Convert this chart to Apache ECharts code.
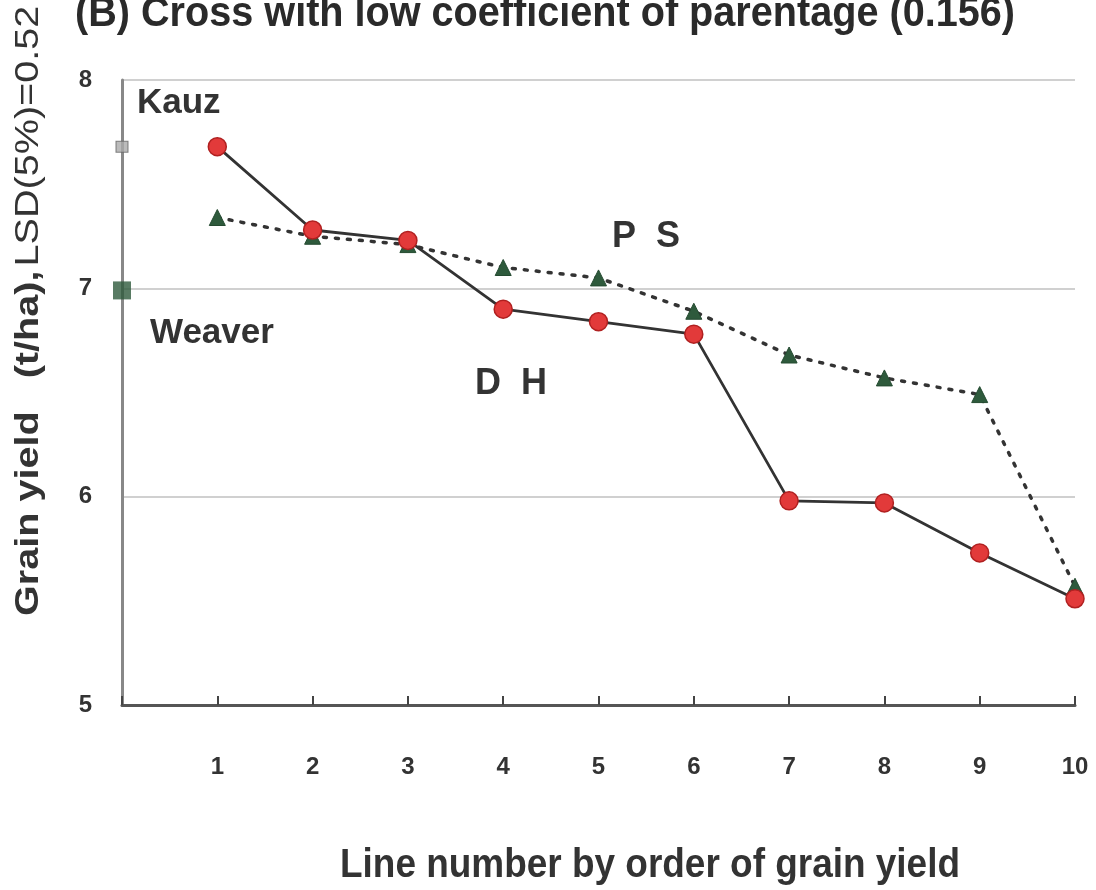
<!DOCTYPE html>
<html><head><meta charset="utf-8">
<script src="https://cdn.jsdelivr.net/npm/echarts@6/dist/echarts.min.js"></script>
<style>html,body{margin:0;padding:0;background:#fff}#c{width:1096px;height:890px}</style>
</head><body><div id="c"></div>
<script>
const lineNumbers = [1,2,3,4,5,6,7,8,9,10];
const dhYield = [7.68,7.28,7.23,6.90,6.84,6.78,5.98,5.97,5.73,5.51];
const psYield = [7.34,7.25,7.21,7.10,7.05,6.89,6.68,6.57,6.49,5.57];
const kauz = [0, 7.68];
const weaver = [0, 6.99];
const yTicks = [5,6,7,8];

const FONT = 'Liberation Sans';
const titleText = '(B) Cross with low coefficient of parentage (0.156)';
const xNameText = 'Line number by order of grain yield';

function measure(text, size){
  const c = document.createElement('canvas').getContext('2d');
  c.font = 'bold ' + size + 'px "' + FONT + '"';
  return c.measureText(text).width;
}
const titleSize = 42, xNameSize = 40;
const titleScale = 940 / measure(titleText, titleSize);
const xNameScale = 620 / measure(xNameText, xNameSize);

const chart = echarts.init(document.getElementById('c'));
chart.setOption({
  backgroundColor:'#fff',
  animation:false,
  grid:{left:122,right:21,top:80,bottom:185},
  xAxis:{type:'value',min:0,max:10,interval:1,
    axisLine:{lineStyle:{color:'#555',width:3}},
    axisTick:{inside:true,length:9,lineStyle:{color:'#444',width:2}},
    splitLine:{show:false},
    axisLabel:{margin:50,fontFamily:FONT,fontWeight:'bold',fontSize:24,color:'#333',
      formatter:v=>v===0?'':String(v)}
  },
  yAxis:{type:'value',min:5,max:8,interval:1,
    axisLine:{show:true,lineStyle:{color:'#888',width:3}},
    axisTick:{show:false},
    splitLine:{lineStyle:{color:'#d0d0d0',width:2}},
    axisLabel:{margin:30,fontFamily:FONT,fontWeight:'bold',fontSize:24,color:'#333',
      formatter:v=>yTicks.includes(v)?String(v):''}
  },
  graphic:[
    {type:'text',x:545,y:14,scaleX:titleScale,
     style:{text:titleText,fontFamily:FONT,fontWeight:'bold',fontSize:titleSize,fill:'#2a2a2a',
       align:'center',verticalAlign:'middle'}},
    {type:'text',x:650,y:866,scaleX:xNameScale,
     style:{text:xNameText,fontFamily:FONT,fontWeight:'bold',fontSize:xNameSize,fill:'#333',
       align:'center',verticalAlign:'middle'}},
    {type:'text',x:12,y:616,rotation:Math.PI/2,scaleX:1.2,
     style:{text:'{b|Grain yield   (t/ha),} {n|LSD(5%)=0.52}',rich:{
       b:{fontFamily:FONT,fontWeight:'bold',fontSize:33,fill:'#333'},
       n:{fontFamily:FONT,fontSize:33,fill:'#333'}}}},
    {type:'text',x:612,y:219,style:{text:'P  S',fontFamily:FONT,fontWeight:'bold',fontSize:36,fill:'#333'}},
    {type:'text',x:475,y:366,style:{text:'D  H',fontFamily:FONT,fontWeight:'bold',fontSize:36,fill:'#333'}},
    {type:'text',x:137,y:86,style:{text:'Kauz',fontFamily:FONT,fontWeight:'bold',fontSize:35,fill:'#333'}},
    {type:'text',x:150,y:316,style:{text:'Weaver',fontFamily:FONT,fontWeight:'bold',fontSize:35,fill:'#333'}}
  ],
  series:[
    {type:'line',name:'PS',data:lineNumbers.map((x,i)=>[x,psYield[i]]),
     lineStyle:{color:'#333',width:3.5,type:[3,9],cap:'round'},
     symbol:'triangle',symbolSize:16,itemStyle:{color:'#2e5a3c',borderColor:'#244a30',borderWidth:1},z:3},
    {type:'line',name:'DH',data:lineNumbers.map((x,i)=>[x,dhYield[i]]),
     lineStyle:{color:'#333',width:2.8},
     symbol:'circle',symbolSize:18,itemStyle:{color:'#e23a3a',borderColor:'#b02020',borderWidth:1.5},z:4},
    {type:'scatter',name:'Kauz',data:[kauz],symbol:'rect',symbolSize:[12,11],
     itemStyle:{color:'#aaa',borderColor:'#666',borderWidth:1},z:5},
    {type:'scatter',name:'Weaver',data:[weaver],symbol:'rect',symbolSize:[18,18],
     itemStyle:{color:'#2e5a3c'},z:5}
  ]
});
</script></body></html>
